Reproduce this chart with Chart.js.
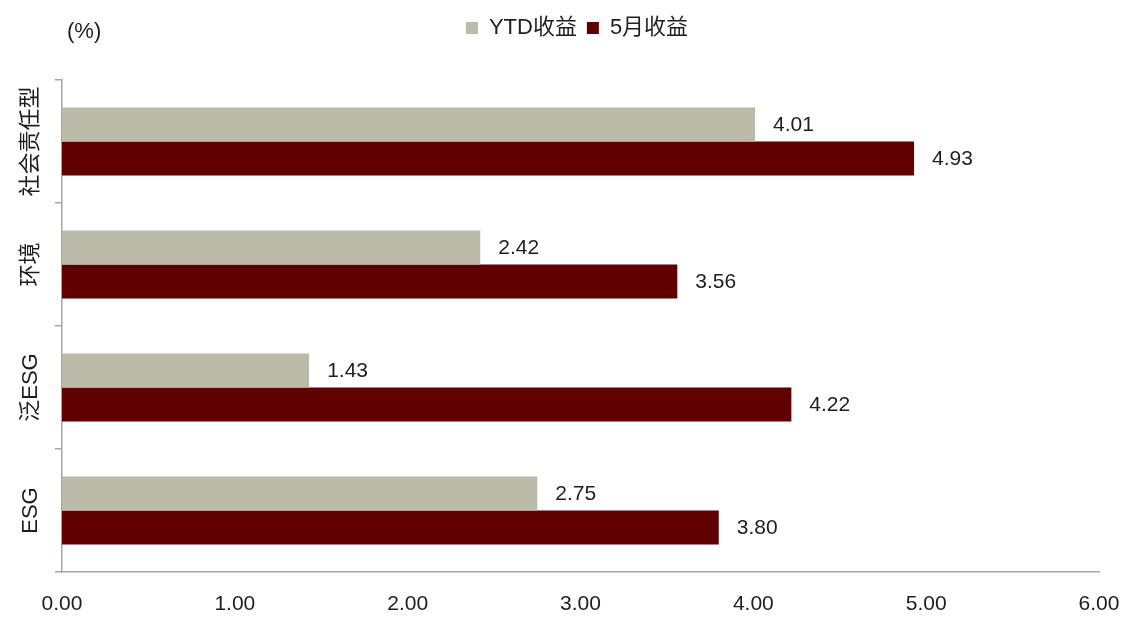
<!DOCTYPE html>
<html lang="zh">
<head>
    <meta charset="UTF-8">
    <title>ESG基金收益</title>
    <style>
        body { margin: 0; background: #fff; }
        #wrap { width: 1128px; height: 624px; }
    </style>
</head>
<body>
    <div id="wrap">
        <canvas id="retChart"></canvas>
    </div>

    <script src="https://cdn.jsdelivr.net/npm/chart.js"></script>
    <script>
        // data
        const categories = ['社会责任型', '环境', '泛ESG', 'ESG'];
        const seriesNames = ['YTD收益', '5月收益'];
        const ytdValues = [4.01, 2.42, 1.43, 2.75];
        const mayValues = [4.93, 3.56, 4.22, 3.80];
        const xTicks = [0, 1, 2, 3, 4, 5, 6];
        const unitLabel = '(%)';

        const FONT = 'Liberation Sans, "Noto Sans CJK SC", sans-serif';
        const TEXT = '#1e1e1e';
        const AXIS = '#a6a6a6';

        // push the plot area down below the legend
        const legendGap = {
            id: 'legendGap',
            beforeInit(chart) {
                const lg = chart.legend;
                if (!lg) return;
                const fit = lg.fit;
                lg.fit = function () {
                    fit.call(this);
                    this.height = 80 - chart.options.layout.padding.top;
                };
            }
        };

        // value labels, rotated category labels and the unit text
        const textLayer = {
            id: 'textLayer',
            afterDatasetsDraw(chart) {
                const ctx = chart.ctx;
                ctx.save();
                ctx.fillStyle = TEXT;
                ctx.font = '21px ' + FONT;
                ctx.textBaseline = 'middle';
                ctx.textAlign = 'left';
                chart.data.datasets.forEach((ds, i) => {
                    chart.getDatasetMeta(i).data.forEach((bar, j) => {
                        ctx.fillText(ds.data[j].toFixed(2), bar.x + 18, bar.y + 1);
                    });
                });

                const y = chart.scales.y;
                ctx.font = '22px ' + FONT;
                ctx.textAlign = 'center';
                categories.forEach((c, j) => {
                    ctx.save();
                    ctx.translate(31, y.getPixelForValue(j));
                    ctx.rotate(-Math.PI / 2);
                    ctx.fillText(c, 0, 0);
                    ctx.restore();
                });

                ctx.textAlign = 'left';
                ctx.fillText(unitLabel, 67, 32);
                ctx.restore();
            }
        };

        const ctx = document.getElementById('retChart').getContext('2d');
        const retChart = new Chart(ctx, {
            type: 'bar',
            data: {
                labels: categories,
                datasets: [{
                    label: seriesNames[0],
                    data: ytdValues,
                    backgroundColor: '#bcbaa9',
                    barPercentage: 1,
                    categoryPercentage: 0.553
                }, {
                    label: seriesNames[1],
                    data: mayValues,
                    backgroundColor: '#600000',
                    barPercentage: 1,
                    categoryPercentage: 0.553
                }]
            },
            options: {
                indexAxis: 'y',
                responsive: true,
                maintainAspectRatio: false,
                animation: false,
                layout: { padding: { left: 55, right: 29, top: 7, bottom: 0 } },
                plugins: {
                    legend: {
                        labels: {
                            boxWidth: 12,
                            boxHeight: 12,
                            padding: 10,
                            color: TEXT,
                            font: { family: FONT, size: 22 }
                        }
                    },
                    tooltip: { enabled: false }
                },
                scales: {
                    x: {
                        min: 0,
                        max: 6,
                        afterBuildTicks: s => { s.ticks = xTicks.map(v => ({ value: v })); },
                        afterFit: s => {
                            s.height = 52;
                            s.paddingLeft = 0;
                            s.paddingRight = 0;
                        },
                        ticks: {
                            callback: v => v.toFixed(2),
                            padding: 12,
                            color: TEXT,
                            font: { family: FONT, size: 21 }
                        },
                        grid: { display: false },
                        border: { color: AXIS, width: 1.5 }
                    },
                    y: {
                        ticks: { display: false },
                        grid: { drawOnChartArea: false, tickLength: 7, color: AXIS, lineWidth: 1.5 },
                        border: { color: AXIS, width: 1.5 }
                    }
                }
            },
            plugins: [legendGap, textLayer]
        });
    </script>
</body>
</html>
